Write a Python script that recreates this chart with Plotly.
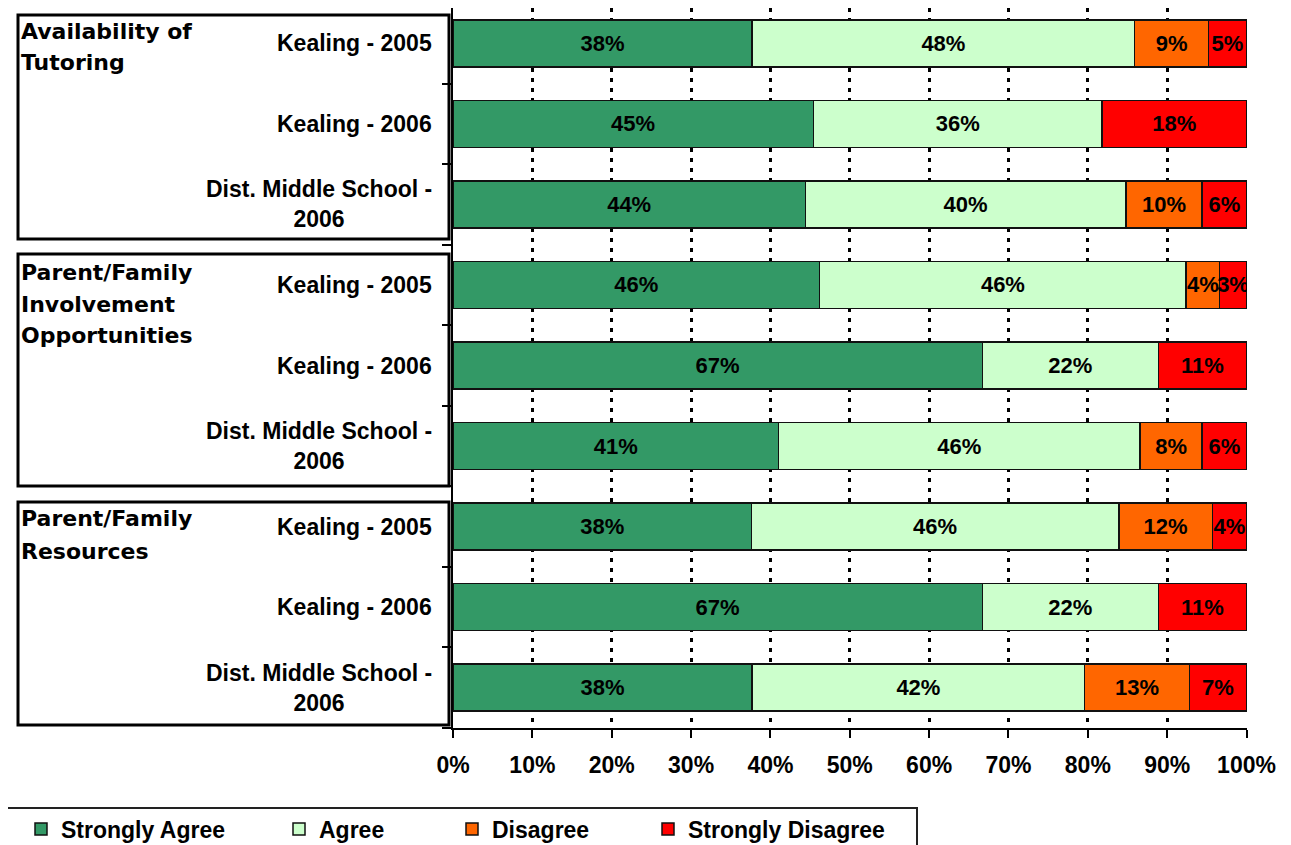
import plotly.graph_objects as go

# ---------------- data ----------------
row_labels = [
    "Kealing - 2005", "Kealing - 2006", "Dist. Middle School -<br>2006",
    "Kealing - 2005", "Kealing - 2006", "Dist. Middle School -<br>2006",
    "Kealing - 2005", "Kealing - 2006", "Dist. Middle School -<br>2006",
]
group_lines = [
    ["Availability of", "Tutoring"],
    ["Parent/Family", "Involvement", "Opportunities"],
    ["Parent/Family", "Resources"],
]
series_names = ["Strongly Agree", "Agree", "Disagree", "Strongly Disagree"]
strongly_agree = [37.7, 45.4, 44.4, 46.2, 66.7, 41.0, 37.6, 66.7, 37.7]
agree = [48.2, 36.4, 40.4, 46.2, 22.2, 45.6, 46.3, 22.2, 41.9]
disagree = [9.3, 0, 9.6, 4.2, 0, 7.8, 11.8, 0, 13.2]
strongly_disagree = [4.8, 18.2, 5.6, 3.4, 11.1, 5.6, 4.3, 11.1, 7.2]
x_ticks = [0, 10, 20, 30, 40, 50, 60, 70, 80, 90, 100]
x_tick_labels = ["0%", "10%", "20%", "30%", "40%", "50%", "60%", "70%", "80%", "90%", "100%"]

series_values = [strongly_agree, agree, disagree, strongly_disagree]
colors = ["#339966", "#CCFFCC", "#FF6600", "#FF0000"]

# ---------------- layout geometry (page pixels) ----------------
OFF = 8                      # page body margin
W, H = 1291 - OFF, 845 - OFF
X0, X1 = 453, 1247           # plot left/right in page px
T, B = 8, 728                # plot top/bottom in page px (top limited by body margin)
ROW_TOP_REF = 3              # where row -0.5 boundary sits in the reference
n = len(row_labels)
row_h = (B - ROW_TOP_REF) / n
y_top = -0.5 + (T - ROW_TOP_REF) / row_h


def px2x(px):
    return (px - X0) / (X1 - X0)


def py2y(py):
    return (B - py) / (B - T)


AR = "Liberation Sans, Arial, sans-serif"
DJ = "DejaVu Sans, sans-serif"

fig = go.Figure()
ys = list(range(n))
legend_ids = ["legend", "legend2", "legend3", "legend4"]
for name, vals, col, lg in zip(series_names, series_values, colors, legend_ids):
    fig.add_trace(go.Bar(
        y=ys, x=vals, name=name, orientation="h",
        marker=dict(color=col, line=dict(color="#111111", width=1.5)),
        text=[f"{v:.0f}%" if v > 0 else "" for v in vals],
        textposition="inside", insidetextanchor="middle", textangle=0,
        constraintext="none",
        textfont=dict(family=AR, size=22, color="black", weight="bold"),
        legend=lg, hoverinfo="name+x",
    ))

annotations = []
# category labels
for i, lab in enumerate(row_labels):
    annotations.append(dict(
        text=lab, xref="paper", x=px2x(434), xanchor="right",
        yref="y", y=i, yanchor="middle", align="center", showarrow=False,
        font=dict(family=AR, size=23, color="black", weight="bold"),
    ))

# group labels (one annotation per line)
group_line_centers = [[31, 63], [272, 304, 335], [519, 551]]
for lines, centers in zip(group_lines, group_line_centers):
    for txt, cy in zip(lines, centers):
        annotations.append(dict(
            text=txt, xref="paper", x=px2x(19), xanchor="left",
            yref="paper", y=py2y(cy), yanchor="middle", showarrow=False,
            font=dict(family=DJ, size=22, color="black", weight="bold"),
        ))

shapes = []
# group boxes
for top, bot in [(15, 239), (254, 486), (502, 725)]:
    shapes.append(dict(
        type="rect", xref="paper", yref="paper",
        x0=px2x(18), x1=px2x(449), y0=py2y(top), y1=py2y(bot),
        line=dict(color="black", width=3), fillcolor="rgba(0,0,0,0)",
    ))
# legend box
shapes.append(dict(
    type="rect", xref="paper", yref="paper",
    x0=px2x(-10), x1=px2x(917), y0=py2y(808), y1=py2y(860),
    line=dict(color="#222222", width=2), fillcolor="rgba(0,0,0,0)",
))

legend_lefts = [21, 279, 452, 648]
legend_common = dict(
    orientation="h", yref="paper", yanchor="middle", y=py2y(829),
    xanchor="left", bgcolor="rgba(0,0,0,0)", borderwidth=0,
    font=dict(family=AR, size=23, color="black", weight="bold"),
)
legend_layout = {}
for lg, lx in zip(legend_ids, legend_lefts):
    legend_layout[lg] = dict(legend_common, x=px2x(lx))

fig.update_layout(
    width=W, height=H, autosize=False,
    margin=dict(l=X0 - OFF, r=W - (X1 - OFF), t=T - OFF, b=H - (B - OFF),
                pad=0, autoexpand=False),
    barmode="stack", bargap=0.417,
    plot_bgcolor="white", paper_bgcolor="white",
    showlegend=True,
    annotations=annotations, shapes=shapes,
    xaxis=dict(
        range=[0, 100.06], tickmode="array", tickvals=x_ticks, ticktext=x_tick_labels,
        ticks="outside", ticklen=8, tickwidth=2, tickcolor="black",
        showline=True, linecolor="black", linewidth=2,
        showgrid=True, gridcolor="black", gridwidth=3, griddash="4px,6px",
        zeroline=False, ticklabelstandoff=7,
        tickfont=dict(family=AR, size=23, color="black", weight="bold"),
    ),
    xaxis2=dict(
        overlaying="x", matches="x", anchor="y", side="bottom",
        tickmode="array", tickvals=x_ticks, ticks="inside", ticklen=5,
        tickwidth=2, tickcolor="black", showticklabels=False,
        showgrid=False, zeroline=False, showline=False,
    ),
    yaxis=dict(
        range=[n - 0.5, y_top],
        tickvals=[i - 0.5 for i in range(n + 1)],
        ticks="outside", ticklen=9, tickwidth=2, tickcolor="black",
        showticklabels=False, showline=True, linecolor="black", linewidth=2,
        showgrid=False, zeroline=False,
    ),
    **legend_layout,
)

fig.write_html("out.html")
